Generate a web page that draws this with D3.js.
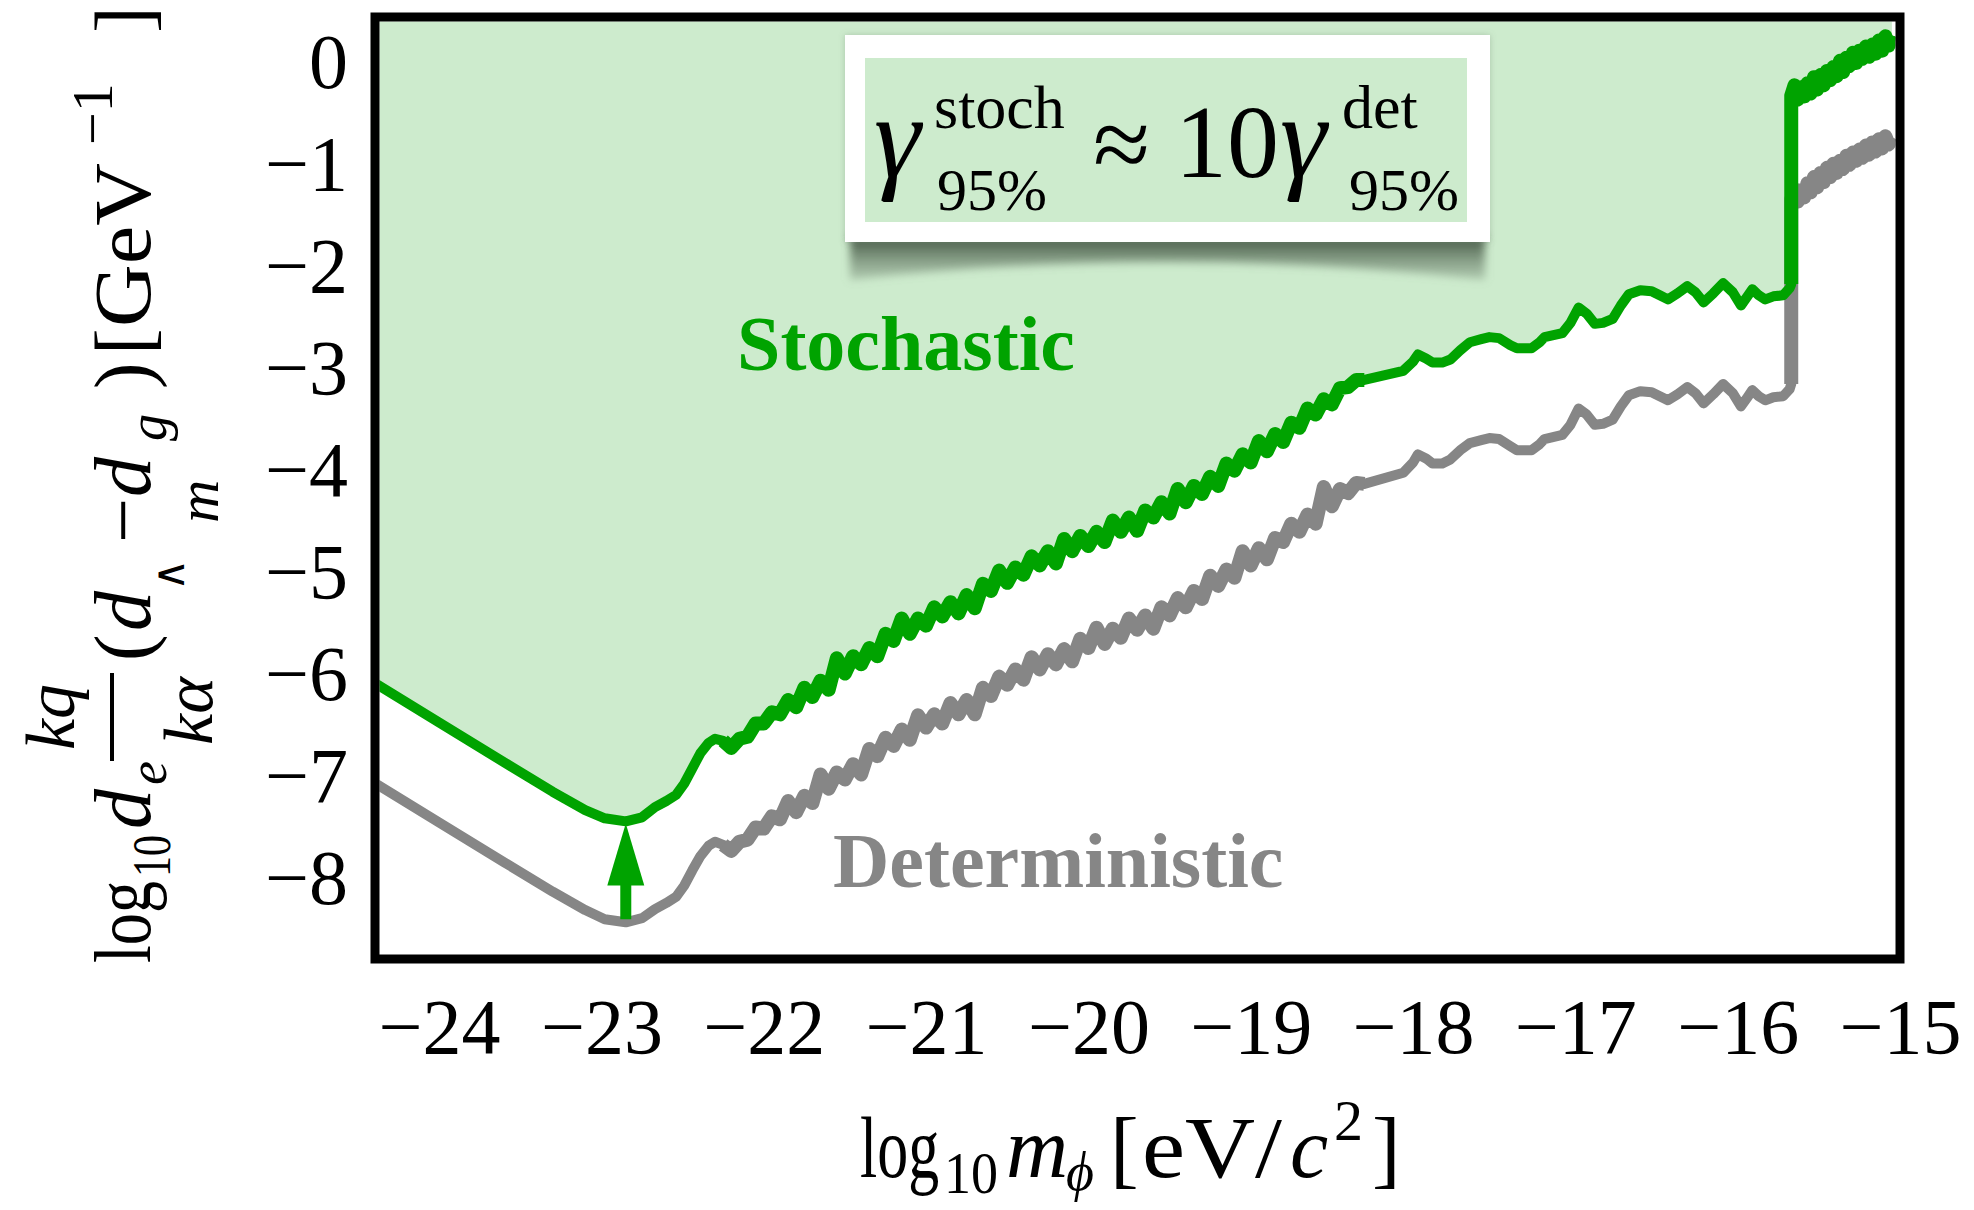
<!DOCTYPE html>
<html>
<head>
<meta charset="utf-8">
<script src="https://cdn.jsdelivr.net/npm/d3@7"></script>
<style>
  html, body { margin: 0; padding: 0; background: #ffffff; }
  svg { display: block; }
  text { font-family: "Liberation Serif", "Times New Roman", serif; }
</style>
</head>
<body>
<svg id="chart" width="1974" height="1210"></svg>
<script>
// ---- tick values -------------------------------------------------------
const xTicks = [-24, -23, -22, -21, -20, -19, -18, -17, -16, -15];
const yTicks = [0, -1, -2, -3, -4, -5, -6, -7, -8];

// ---- 95% limits: [log10 m_phi (eV/c^2), log10 coupling (GeV^-1)] ---------
const deterministic = [
  [-24.40, -7.06], [-24.00, -7.45], [-23.60, -7.84], [-23.30, -8.13], [-23.10, -8.31],
  [-22.98, -8.40], [-22.85, -8.43], [-22.75, -8.39], [-22.67, -8.30], [-22.60, -8.24],
  [-22.54, -8.18], [-22.49, -8.07], [-22.44, -7.92], [-22.39, -7.78], [-22.34, -7.68],
  [-22.30, -7.64], [-22.25, -7.67], [-22.20, -7.73], [-22.15, -7.64], [-22.10, -7.62],
  [-22.05, -7.50], [-22.00, -7.51], [-21.95, -7.39], [-21.90, -7.42], [-21.85, -7.24],
  [-21.80, -7.35], [-21.75, -7.19], [-21.70, -7.26], [-21.65, -6.98], [-21.60, -7.12],
  [-21.55, -6.96], [-21.50, -7.03], [-21.45, -6.88], [-21.40, -6.98], [-21.35, -6.73],
  [-21.30, -6.80], [-21.25, -6.62], [-21.20, -6.70], [-21.15, -6.54], [-21.10, -6.64],
  [-21.05, -6.40], [-21.00, -6.52], [-20.95, -6.39], [-20.90, -6.48], [-20.85, -6.28],
  [-20.80, -6.39], [-20.75, -6.25], [-20.70, -6.39], [-20.65, -6.13], [-20.60, -6.21],
  [-20.55, -6.02], [-20.50, -6.10], [-20.45, -5.95], [-20.40, -6.05], [-20.35, -5.83],
  [-20.30, -5.95], [-20.25, -5.80], [-20.20, -5.90], [-20.15, -5.75], [-20.10, -5.87],
  [-20.05, -5.65], [-20.00, -5.74], [-19.95, -5.54], [-19.90, -5.70], [-19.85, -5.55],
  [-19.80, -5.64], [-19.75, -5.45], [-19.70, -5.56], [-19.65, -5.42], [-19.60, -5.55],
  [-19.55, -5.34], [-19.50, -5.42], [-19.45, -5.25], [-19.40, -5.34], [-19.35, -5.18],
  [-19.30, -5.26], [-19.25, -5.03], [-19.20, -5.13], [-19.15, -4.97], [-19.10, -5.05],
  [-19.05, -4.79], [-19.00, -4.93], [-18.95, -4.76], [-18.90, -4.87], [-18.85, -4.66],
  [-18.80, -4.70], [-18.75, -4.52], [-18.70, -4.60], [-18.65, -4.43], [-18.60, -4.52],
  [-18.55, -4.16], [-18.50, -4.35], [-18.45, -4.18], [-18.40, -4.22], [-18.35, -4.12],
  [-18.30, -4.13], [-18.06, -4.02], [-18.00, -3.92], [-17.97, -3.84], [-17.92, -3.88],
  [-17.88, -3.93], [-17.82, -3.93], [-17.77, -3.89], [-17.71, -3.80], [-17.65, -3.73],
  [-17.58, -3.70], [-17.53, -3.68], [-17.47, -3.69], [-17.40, -3.76], [-17.36, -3.80],
  [-17.27, -3.80], [-17.22, -3.74], [-17.19, -3.69], [-17.08, -3.65], [-17.03, -3.55],
  [-16.98, -3.39], [-16.93, -3.45], [-16.88, -3.55], [-16.83, -3.54], [-16.77, -3.50],
  [-16.72, -3.37], [-16.67, -3.26], [-16.60, -3.22], [-16.53, -3.23], [-16.48, -3.27],
  [-16.43, -3.31], [-16.37, -3.25], [-16.31, -3.18], [-16.26, -3.24], [-16.21, -3.34],
  [-16.15, -3.25], [-16.09, -3.15], [-16.03, -3.24], [-15.98, -3.37], [-15.94, -3.28],
  [-15.91, -3.21], [-15.87, -3.27], [-15.83, -3.31], [-15.78, -3.28], [-15.72, -3.27],
  [-15.68, -3.20], [-15.67, -3.15], [-15.67, -1.34], [-15.65, -1.24], [-15.63, -1.36],
  [-15.61, -1.25], [-15.59, -1.32], [-15.57, -1.18], [-15.55, -1.27], [-15.53, -1.12],
  [-15.51, -1.22], [-15.49, -1.08], [-15.47, -1.17], [-15.45, -1.03], [-15.43, -1.12],
  [-15.41, -0.99], [-15.39, -1.08], [-15.37, -0.96], [-15.35, -1.04], [-15.33, -0.91],
  [-15.31, -1.00], [-15.29, -0.88], [-15.27, -0.96], [-15.25, -0.85], [-15.23, -0.93],
  [-15.21, -0.81], [-15.19, -0.90], [-15.17, -0.78], [-15.15, -0.87], [-15.13, -0.75],
  [-15.11, -0.84], [-15.09, -0.72], [-15.07, -0.80], [-15.05, -0.73]
];

const stochastic = [
  [-24.40, -6.08], [-24.00, -6.47], [-23.60, -6.86], [-23.30, -7.15], [-23.10, -7.33],
  [-22.98, -7.41], [-22.85, -7.44], [-22.75, -7.40], [-22.67, -7.30], [-22.60, -7.24],
  [-22.54, -7.18], [-22.49, -7.07], [-22.44, -6.92], [-22.39, -6.77], [-22.34, -6.67],
  [-22.30, -6.63], [-22.25, -6.65], [-22.20, -6.72], [-22.15, -6.63], [-22.10, -6.61],
  [-22.05, -6.48], [-22.00, -6.48], [-21.95, -6.37], [-21.90, -6.39], [-21.85, -6.25],
  [-21.80, -6.32], [-21.75, -6.13], [-21.70, -6.22], [-21.65, -6.06], [-21.60, -6.15],
  [-21.55, -5.84], [-21.50, -5.99], [-21.45, -5.82], [-21.40, -5.90], [-21.35, -5.74],
  [-21.30, -5.82], [-21.25, -5.60], [-21.20, -5.67], [-21.15, -5.45], [-21.10, -5.60],
  [-21.05, -5.45], [-21.00, -5.52], [-20.95, -5.34], [-20.90, -5.43], [-20.85, -5.29],
  [-20.80, -5.40], [-20.75, -5.22], [-20.70, -5.35], [-20.65, -5.11], [-20.60, -5.18],
  [-20.55, -4.98], [-20.50, -5.10], [-20.45, -4.95], [-20.40, -5.02], [-20.35, -4.84],
  [-20.30, -4.93], [-20.25, -4.79], [-20.20, -4.91], [-20.15, -4.67], [-20.10, -4.79],
  [-20.05, -4.64], [-20.00, -4.74], [-19.95, -4.60], [-19.90, -4.70], [-19.85, -4.49],
  [-19.80, -4.60], [-19.75, -4.46], [-19.70, -4.59], [-19.65, -4.39], [-19.60, -4.46],
  [-19.55, -4.31], [-19.50, -4.42], [-19.45, -4.18], [-19.40, -4.31], [-19.35, -4.15],
  [-19.30, -4.23], [-19.25, -4.06], [-19.20, -4.15], [-19.15, -3.93], [-19.10, -4.00],
  [-19.05, -3.84], [-19.00, -3.92], [-18.95, -3.71], [-18.90, -3.81], [-18.85, -3.64],
  [-18.80, -3.72], [-18.75, -3.53], [-18.70, -3.58], [-18.65, -3.39], [-18.60, -3.45],
  [-18.55, -3.30], [-18.50, -3.35], [-18.45, -3.19], [-18.40, -3.18], [-18.35, -3.11],
  [-18.30, -3.11], [-18.06, -3.02], [-18.00, -2.93], [-17.97, -2.86], [-17.92, -2.90],
  [-17.88, -2.94], [-17.82, -2.94], [-17.77, -2.91], [-17.71, -2.82], [-17.65, -2.74],
  [-17.58, -2.71], [-17.53, -2.69], [-17.47, -2.70], [-17.40, -2.77], [-17.36, -2.80],
  [-17.27, -2.80], [-17.22, -2.74], [-17.19, -2.69], [-17.08, -2.65], [-17.03, -2.55],
  [-16.98, -2.40], [-16.93, -2.46], [-16.88, -2.56], [-16.83, -2.55], [-16.77, -2.51],
  [-16.72, -2.38], [-16.67, -2.27], [-16.60, -2.23], [-16.53, -2.24], [-16.48, -2.28],
  [-16.43, -2.32], [-16.37, -2.26], [-16.31, -2.19], [-16.26, -2.25], [-16.21, -2.35],
  [-16.15, -2.26], [-16.09, -2.16], [-16.03, -2.25], [-15.98, -2.38], [-15.94, -2.29],
  [-15.91, -2.22], [-15.87, -2.28], [-15.83, -2.32], [-15.78, -2.29], [-15.72, -2.28],
  [-15.68, -2.21], [-15.67, -2.17], [-15.67, -0.32], [-15.65, -0.22], [-15.63, -0.36],
  [-15.61, -0.24], [-15.59, -0.33], [-15.57, -0.20], [-15.55, -0.30], [-15.53, -0.14],
  [-15.51, -0.26], [-15.49, -0.12], [-15.47, -0.22], [-15.45, -0.08], [-15.43, -0.17],
  [-15.41, -0.04], [-15.39, -0.13], [-15.37, 0.02], [-15.35, -0.09], [-15.33, 0.05],
  [-15.31, -0.03], [-15.29, 0.10], [-15.27, 0.00], [-15.25, 0.12], [-15.23, 0.04],
  [-15.21, 0.16], [-15.19, 0.06], [-15.17, 0.18], [-15.15, 0.09], [-15.13, 0.22],
  [-15.11, 0.12], [-15.09, 0.26], [-15.07, 0.17], [-15.05, 0.27]
];

// mass ranges where the limits are dominated by jitter (drawn as a thicker band)
const noisyRanges = [[-22.27, -18.3], [-15.67, -15.0]];

// arrow from the deterministic minimum up to the stochastic minimum
const arrowMass = -22.85;
const arrowFrom = -8.40;
const arrowTo = -7.46;

// ---- colours -----------------------------------------------------------
const GREEN = "#00a300";
const GREY = "#868686";
const FILL = "#cdebcd";

// ---- scales ------------------------------------------------------------
const frame = { left: 375, top: 17, right: 1900, bottom: 959, stroke: 9 };
const xDomain = [-24.395, -15];
const yDomain = [-8.79, 0.45];
const x = d3.scaleLinear().domain(xDomain).range([frame.left, frame.right]);
const y = d3.scaleLinear().domain(yDomain).range([frame.bottom, frame.top]);

const svg = d3.select("#chart");
const defs = svg.append("defs");

const half = frame.stroke / 2;
defs.append("clipPath").attr("id", "plot-clip")
  .append("rect")
  .attr("x", frame.left + half).attr("y", frame.top + half)
  .attr("width", frame.right - frame.left - frame.stroke)
  .attr("height", frame.bottom - frame.top - frame.stroke);

const blur = defs.append("filter").attr("id", "soft")
  .attr("x", "-10%").attr("y", "-60%").attr("width", "120%").attr("height", "220%");
blur.append("feGaussianBlur").attr("stdDeviation", 4);

const glow = defs.append("filter").attr("id", "glow")
  .attr("x", "-5%").attr("y", "-10%").attr("width", "110%").attr("height", "120%");
glow.append("feDropShadow").attr("dx", 0).attr("dy", 0)
  .attr("stdDeviation", 3).attr("flood-color", "#6a7d6a").attr("flood-opacity", 0.35);

const shadowGrad = defs.append("linearGradient").attr("id", "curl")
  .attr("x1", 0).attr("y1", 0).attr("x2", 0).attr("y2", 1);
shadowGrad.append("stop").attr("offset", "0%").attr("stop-color", "#3f523f").attr("stop-opacity", 1);
shadowGrad.append("stop").attr("offset", "100%").attr("stop-color", "#7a8e7a").attr("stop-opacity", 0.35);

// ---- plot area ---------------------------------------------------------
const plot = svg.append("g").attr("clip-path", "url(#plot-clip)");

// excluded (stochastic) region above the green limit
plot.append("path")
  .datum(stochastic)
  .attr("fill", FILL)
  .attr("d", d3.area()
    .x(d => x(d[0]))
    .y0(y(yDomain[1]))
    .y1(d => y(d[1])));

const line = d3.line().x(d => x(d[0])).y(d => y(d[1]));
const inRange = (d, r) => d[0] >= r[0] && d[0] <= r[1];

function drawLimit(series, colour) {
  plot.append("path")
    .datum(series)
    .attr("fill", "none")
    .attr("stroke", colour)
    .attr("stroke-width", 10)
    .attr("stroke-linejoin", "round")
    .attr("d", line);
  noisyRanges.forEach(r => {
    plot.append("path")
      .datum(series.filter(d => inRange(d, r)))
      .attr("fill", "none")
      .attr("stroke", colour)
      .attr("stroke-width", 14)
      .attr("stroke-linejoin", "round")
      .attr("d", line);
  });
}
drawLimit(deterministic, GREY);
drawLimit(stochastic, GREEN);

// green arrow
const headH = 62, headW = 37;
const ax = x(arrowMass);
plot.append("line")
  .attr("x1", ax).attr("x2", ax)
  .attr("y1", y(arrowFrom)).attr("y2", y(arrowTo) + headH - 4)
  .attr("stroke", GREEN).attr("stroke-width", 11);
plot.append("path")
  .attr("fill", GREEN)
  .attr("d", `M${ax},${y(arrowTo)} L${ax + headW / 2},${y(arrowTo) + headH} L${ax - headW / 2},${y(arrowTo) + headH} Z`);

// ---- region labels -----------------------------------------------------
svg.append("text")
  .attr("x", 737).attr("y", 370)
  .attr("font-size", 78).attr("font-weight", "bold")
  .attr("fill", GREEN)
  .text("Stochastic");

svg.append("text")
  .attr("x", 833).attr("y", 887)
  .attr("font-size", 78).attr("font-weight", "bold")
  .attr("fill", GREY)
  .text("Deterministic");

// ---- inset with the scaling relation ----------------------------------
const inset = svg.append("g");
inset.append("path")
  .attr("d", "M850,236 L1485,236 L1485,280 Q1167,244 850,280 Z")
  .attr("fill", "url(#curl)")
  .attr("filter", "url(#soft)");
inset.append("rect")
  .attr("x", 845).attr("y", 35).attr("width", 645).attr("height", 207)
  .attr("fill", "#ffffff").attr("filter", "url(#glow)");
inset.append("rect")
  .attr("x", 865).attr("y", 58).attr("width", 602).attr("height", 164)
  .attr("fill", FILL);

const eq = inset.append("g").attr("fill", "#000");
eq.append("text").attr("x", 874).attr("y", 177).attr("font-size", 118)
  .attr("font-style", "italic").text("γ");
eq.append("text").attr("x", 934).attr("y", 128).attr("font-size", 62).text("stoch");
eq.append("text").attr("x", 937).attr("y", 210).attr("font-size", 60).text("95%");
eq.append("text").attr("x", 1093).attr("y", 179).attr("font-size", 104).text("≈");
eq.append("text").attr("x", 1175).attr("y", 177).attr("font-size", 104).text("10");
eq.append("text").attr("x", 1280).attr("y", 177).attr("font-size", 118)
  .attr("font-style", "italic").text("γ");
eq.append("text").attr("x", 1342).attr("y", 128).attr("font-size", 62).text("det");
eq.append("text").attr("x", 1349).attr("y", 210).attr("font-size", 60).text("95%");

// ---- frame -------------------------------------------------------------
svg.append("rect")
  .attr("x", frame.left).attr("y", frame.top)
  .attr("width", frame.right - frame.left).attr("height", frame.bottom - frame.top)
  .attr("fill", "none").attr("stroke", "#000").attr("stroke-width", frame.stroke);

// ---- axes --------------------------------------------------------------
const fmt = d => (d < 0 ? "\u2212" + Math.abs(d) : String(d));

const xAxis = svg.append("g")
  .attr("transform", `translate(0,${frame.bottom})`)
  .call(d3.axisBottom(x).tickValues(xTicks).tickFormat(fmt).tickSize(0).tickPadding(39));
xAxis.select(".domain").remove();
xAxis.selectAll("text")
  .attr("font-family", "Liberation Serif")
  .attr("font-size", 78).attr("fill", "#000");

const yAxis = svg.append("g")
  .attr("transform", `translate(${frame.left},0)`)
  .call(d3.axisLeft(y).tickValues(yTicks).tickFormat(fmt).tickSize(0).tickPadding(27));
yAxis.select(".domain").remove();
yAxis.selectAll("text")
  .attr("font-family", "Liberation Serif")
  .attr("font-size", 78).attr("fill", "#000");

// ---- x-axis title: log10 m_phi [eV/c^2] --------------------------------
// the narrow "log" is set on its own, squeezed horizontally
svg.append("text")
  .attr("transform", "translate(860,1177) scale(0.72,1)")
  .attr("font-size", 86).attr("fill", "#000")
  .text("log");

const xt = svg.append("text").attr("fill", "#000").attr("font-size", 86);
const xRun = (txt, px, py, size, italic, len) => {
  const t = xt.append("tspan")
    .attr("x", px).attr("y", py)
    .attr("font-size", size)
    .attr("font-style", italic ? "italic" : "normal")
    .text(txt);
  if (len) t.attr("textLength", len).attr("lengthAdjust", "spacingAndGlyphs");
  return t;
};
xRun("10", 944, 1193, 60, false, 54);
xRun("m", 1006, 1177, 86, true);
xRun("ϕ", 1066, 1190, 54, true);
xRun("[", 1110, 1177, 86);
xRun("eV/", 1142, 1177, 86, false, 140);
xRun("c", 1290, 1177, 86, true);
xRun("2", 1334, 1140, 58);
xRun("]", 1372, 1177, 86);

// ---- y-axis title: log10 d_e (k_q/k_alpha)(d_m^ - d_g) [GeV^-1] -------
// local frame: u runs up the page, v runs to the right (baseline at v = 0)
const yt = svg.append("g").attr("transform", "translate(150,963) rotate(-90)");
const piece = (txt, u, v, size, italic, anchor, len) => {
  const t = yt.append("text")
    .attr("x", u).attr("y", v)
    .attr("font-size", size)
    .attr("font-style", italic ? "italic" : "normal")
    .attr("text-anchor", anchor || "start")
    .attr("fill", "#000")
    .text(txt);
  if (len) t.attr("textLength", len).attr("lengthAdjust", "spacingAndGlyphs");
  return t;
};

piece("log", 0, 0, 80, false, "start", 82);
piece("10", 86, 20, 54, false, "start", 42);
piece("d", 134, 0, 80, true);
piece("e", 178, 16, 54, true);
piece("kq", 246, -76, 70, true, "middle");
yt.append("line").attr("x1", 202).attr("x2", 290).attr("y1", -38).attr("y2", -38)
  .attr("stroke", "#000").attr("stroke-width", 4);
piece("kα", 252, 62, 70, true, "middle");
piece("(", 302, 0, 80);
piece("d", 332, 0, 80, true);
piece("∧", 372, 34, 44);
piece("−", 420, 0, 80);
piece("m", 440, 68, 60, true);
piece("d", 466, 0, 80, true);
piece("g", 522, 16, 54, true);
piece(")", 574, 0, 80);
piece("[", 608, 0, 80);
piece("GeV", 636, 0, 80, false, "start", 164);
piece("−1", 818, -38, 58);
piece("]", 930, 0, 80);
</script>
</body>
</html>
